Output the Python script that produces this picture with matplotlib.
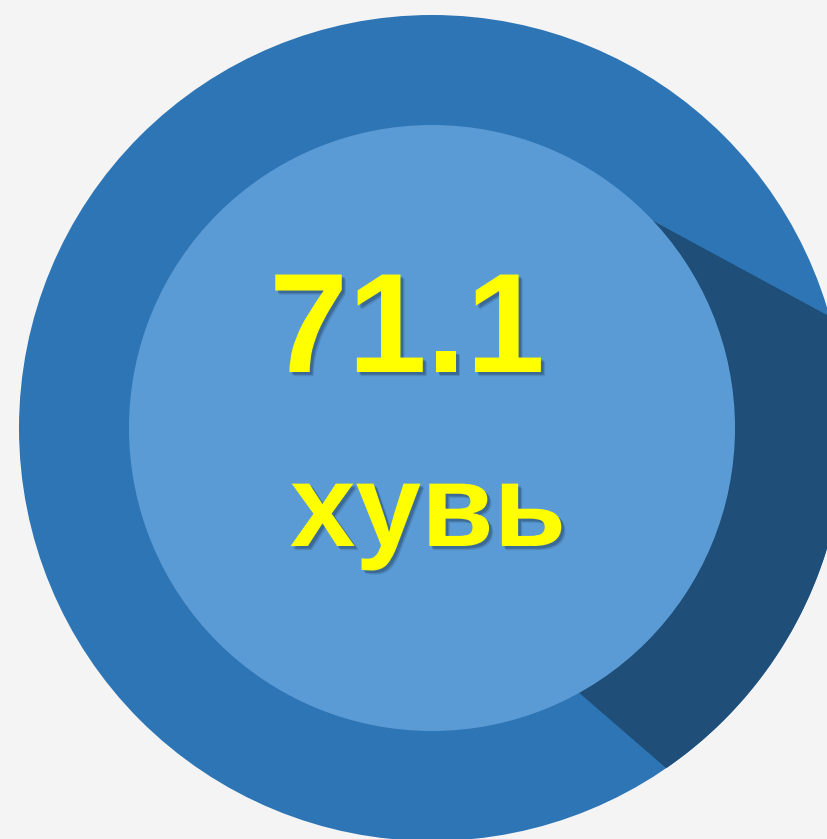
import matplotlib.pyplot as plt
import matplotlib.patches as mpatches
import matplotlib.patheffects as pe
from matplotlib import font_manager
from matplotlib.font_manager import FontProperties
from matplotlib.ft2font import FT2Font
import numpy as np

# data
value = 71.1
unit_label = "хувь"
shares = [value, 100 - value]

# layout (pixels of the 827x839 picture)
W, H = 827, 839
cx, cy, R = 432, 428, 413
r_in = 303 / R
start_deg = 43.1          # where the light part of the ring begins (ccw)
light_src = np.array([-3.47, 2.67])   # "shadow" edges fan out from here

fig = plt.figure(figsize=(W / 100, H / 100), dpi=100)
fig.patch.set_facecolor('#f4f4f4')
ax = fig.add_axes([0, 0, 1, 1])
ax.set_xlim(-cx / R, (W - cx) / R)
ax.set_ylim(-(H - cy) / R, cy / R)
ax.axis('off')

# outer ring
ax.add_patch(mpatches.Circle((0, 0), 1.0, color='#2e75b6', lw=0))


def to_outer(p):
    # cast a line from the light point through p until it meets the outer circle
    d = p - light_src
    d = d / np.linalg.norm(d)
    pd = p @ d
    t = -pd + np.sqrt(pd ** 2 - p @ p + 1)
    return p + t * d


# dark part of the ring = share[1] of the full turn
dark_span = 360 * shares[1] / 100
a_hi = np.radians(start_deg)
a_lo = np.radians(start_deg - dark_span)
p_hi = r_in * np.array([np.cos(a_hi), np.sin(a_hi)])
p_lo = r_in * np.array([np.cos(a_lo), np.sin(a_lo)])
q_hi = to_outer(p_hi)
q_lo = to_outer(p_lo)
ang_lo = np.arctan2(q_lo[1], q_lo[0])
ang_hi = np.arctan2(q_hi[1], q_hi[0])
arc = np.linspace(ang_lo, ang_hi, 200)
pts = [(np.cos(a), np.sin(a)) for a in arc]
pts += [tuple(p_hi), (0, 0), tuple(p_lo)]
ax.add_patch(mpatches.Polygon(pts, closed=True, color='#1f4e79', lw=0))

# inner disc
ax.add_patch(mpatches.Circle((0, 0), r_in, color='#5b9bd5', lw=0))

shadow = [pe.SimplePatchShadow(offset=(3, -3), shadow_rgbFace='#1f3f60', alpha=0.2),
          pe.SimplePatchShadow(offset=(2, -2), shadow_rgbFace='#1f3f60', alpha=0.4),
          pe.Normal()]

font_path = font_manager.findfont(FontProperties(family='Liberation Sans', weight='bold'))


def spaced_text(s, x_mid_px, base_px, size):
    # place glyphs one by one on their plain advances (no kerning)
    ft = FT2Font(font_path)
    ft.set_size(size, 100)
    advs = [ft.load_char(ord(c)).linearHoriAdvance / 65536 for c in s]
    x = x_mid_px - sum(advs) / 2
    for c, a in zip(s, advs):
        ax.text((x - cx) / R, (cy - base_px) / R, c, color='#ffff00',
                fontsize=size, fontweight='bold', family='Liberation Sans',
                ha='left', va='baseline', path_effects=shadow)
        x += a


spaced_text(f"{value:.1f}", 407, 372, 102)
spaced_text(unit_label, 428, 546, 85)

fig.savefig('out.png', dpi=100, facecolor=fig.get_facecolor())
